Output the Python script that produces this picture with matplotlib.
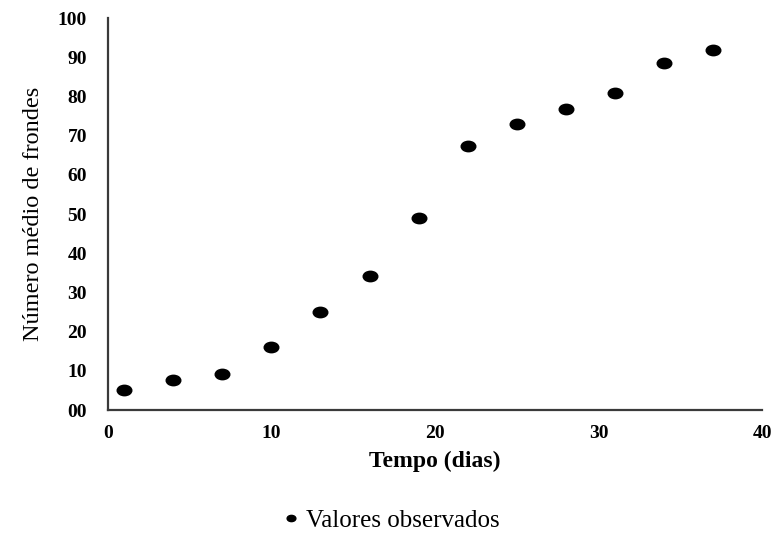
import matplotlib
matplotlib.use('Agg')
import matplotlib.pyplot as plt
from matplotlib.path import Path
from matplotlib.transforms import Affine2D
from matplotlib.ticker import FuncFormatter

# dados
dias = [1, 4, 7, 10, 13, 16, 19, 22, 25, 28, 31, 34, 37]
frondes = [5.1, 7.7, 9.2, 16.1, 25.0, 34.2, 49.1, 67.5, 72.9, 76.8, 80.9, 88.5, 92.0]
x_ticks = [0, 10, 20, 30, 40]
y_ticks = [0, 10, 20, 30, 40, 50, 60, 70, 80, 90, 100]

plt.rcParams['font.family'] = ['Liberation Serif', 'DejaVu Serif']

# marcador eliptico (a imagem original esta esticada na horizontal)
circ = Path.unit_circle()
ell = Affine2D().scale(1.4, 1.0).transform_path(circ)

fig = plt.figure(figsize=(7.76, 5.34), dpi=100)
ax = fig.add_axes([0.139, 0.232, 0.843, 0.734])

ax.plot(dias, frondes, linestyle='none', marker=ell, markersize=10.5,
        color='black', label='Valores observados')

ax.set_xlim(0, 40)
ax.set_ylim(0, 100)
ax.set_xticks(x_ticks)
ax.set_yticks(y_ticks)
ax.yaxis.set_major_formatter(FuncFormatter(lambda v, p: '%02d' % v))
ax.tick_params(length=0, labelsize=14)
ax.tick_params(axis='x', pad=11)
ax.tick_params(axis='y', pad=15)
for lab in ax.get_xticklabels() + ax.get_yticklabels():
    lab.set_fontweight('bold')

for s in ['top', 'right']:
    ax.spines[s].set_visible(False)
for s in ['left', 'bottom']:
    ax.spines[s].set_color('#3a3a3a')
    ax.spines[s].set_linewidth(1.6)

ax.set_xlabel('Tempo (dias)', fontsize=17, fontweight='bold', labelpad=6)
ax.set_ylabel('Número médio de frondes', fontsize=17.5, labelpad=10)

ax.legend(loc='center', bbox_to_anchor=(0.505, 0.025), bbox_transform=fig.transFigure,
          frameon=False, fontsize=18, handlelength=0.5, handletextpad=0.35,
          markerscale=0.6)

fig.savefig('out.png', dpi=100)
